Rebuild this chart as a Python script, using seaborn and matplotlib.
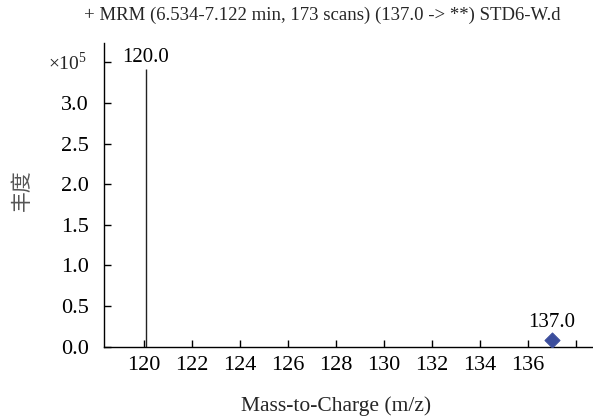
import matplotlib
matplotlib.use("Agg")
import matplotlib.pyplot as plt
import seaborn as sns
import pandas as pd

# data (abundance in units of 1e5)
stick_mz = [120.1]
stick_abund = [3.42]
stick_labels = ["120.0"]
prec_mz = [137.0]
prec_abund = [0.08]
prec_labels = ["137.0"]
xticks = [120, 122, 124, 126, 128, 130, 132, 134, 136, 138]
xticklabels = ["120", "122", "124", "126", "128", "130", "132", "134", "136", ""]
yticks = [0.0, 0.5, 1.0, 1.5, 2.0, 2.5, 3.0, 3.5]
yticklabels = ["0.0", "0.5", "1.0", "1.5", "2.0", "2.5", "3.0", ""]
title = "+ MRM (6.534-7.122 min, 173 scans) (137.0 -> **) STD6-W.d"
xlabel = "Mass-to-Charge (m/z)"
ylabel = "丰度"

sns.set_theme(style="white")
plt.rcParams["font.family"] = ["Liberation Serif", "Noto Sans CJK SC"]
plt.rcParams["mathtext.fontset"] = "custom"
plt.rcParams["mathtext.rm"] = "Liberation Serif"

fig = plt.figure(figsize=(5.93, 4.17), dpi=100)
ax = fig.add_axes([0.1754, 0.169, 0.824, 0.728])

df_stick = pd.DataFrame({"mz": stick_mz, "abund": stick_abund})
df_prec = pd.DataFrame({"mz": prec_mz, "abund": prec_abund})

ax.vlines(df_stick["mz"], 0, df_stick["abund"], color="#222222", linewidth=1.0)
sns.scatterplot(data=df_prec, x="mz", y="abund", marker="D", s=60,
                color="#3b4d9c", edgecolor="#3b4d9c", ax=ax, zorder=3)

for x, y, t in zip(stick_mz, stick_abund, stick_labels):
    ax.annotate(t, (x, y), xytext=(0, 1.5), textcoords="offset points",
                ha="center", va="bottom", fontsize=15, color="black")
for x, y, t in zip(prec_mz, prec_abund, prec_labels):
    ax.annotate(t, (x, y), xytext=(0, 6), textcoords="offset points",
                ha="center", va="bottom", fontsize=15, color="black")

ax.set_xlim(118.35, 138.7)
ax.set_ylim(0, 3.74)
ax.set_xticks(xticks)
ax.set_xticklabels(xticklabels)
ax.set_yticks(yticks)
ax.set_yticklabels(yticklabels)
ax.tick_params(axis="both", direction="in", length=5, width=1, colors="black",
               labelsize=16, left=True, bottom=True)
ax.tick_params(axis="y", pad=11)
ax.tick_params(axis="x", pad=7)
for s in ["top", "right"]:
    ax.spines[s].set_visible(False)
for s in ["left", "bottom"]:
    ax.spines[s].set_color("black")
    ax.spines[s].set_linewidth(1.0)

ax.set_xlabel(xlabel, fontsize=15.5)
ax.xaxis.set_label_coords(0.474, -0.197)
ax.xaxis.label.set_va("center")
ax.set_ylabel("")
fig.text(22 / 593, 1 - 190 / 417, ylabel, rotation=90, ha="center", va="center",
         fontsize=15, color="#555555", family=["Noto Sans CJK SC"])
ax.text(-17 / 489, 3.5, "×10$^5$", transform=ax.get_yaxis_transform(),
        ha="right", va="center", fontsize=14)
fig.text(322 / 593, 1 - 15 / 417, title, ha="center", va="center", fontsize=13.5)

fig.savefig("out.png", dpi=100)
